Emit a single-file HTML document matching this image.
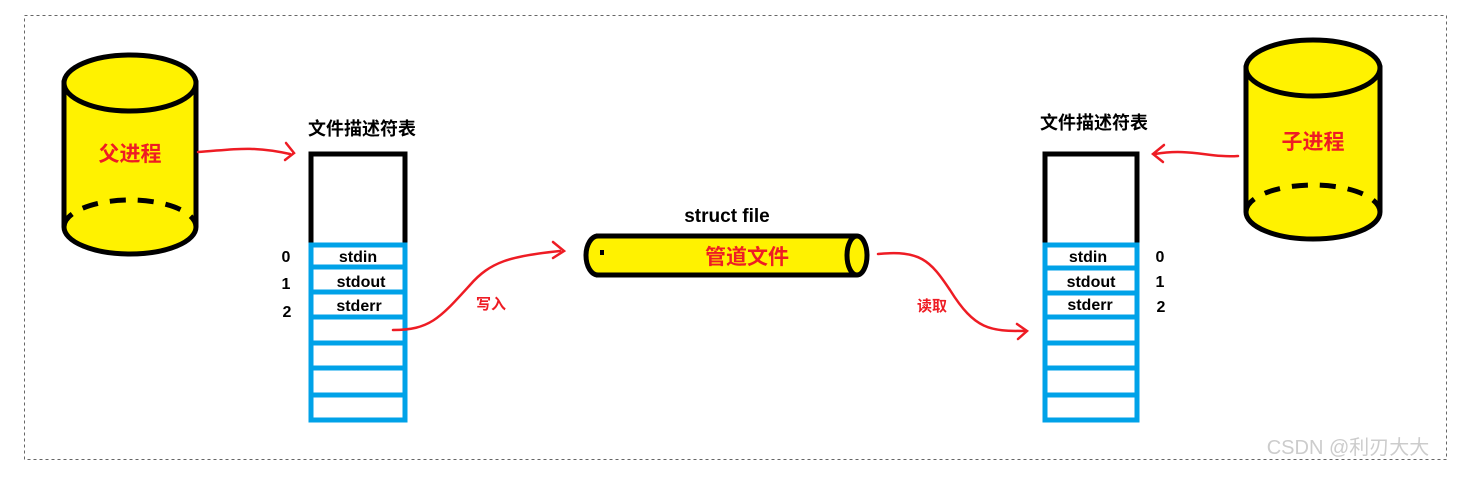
<!DOCTYPE html>
<html><head><meta charset="utf-8"><style>
html,body{margin:0;padding:0;background:#fff;}
svg text{font-family:"Liberation Sans","Noto Sans CJK SC",sans-serif;font-weight:bold;}
</style></head><body>
<svg width="1463" height="472" viewBox="0 0 1463 472" xmlns="http://www.w3.org/2000/svg">
<rect x="24.5" y="15.5" width="1422" height="444" fill="none" stroke="#666" stroke-dasharray="3,3" stroke-width="1"/>
<!-- left cylinder -->
<path d="M64 83 V227 A66 27 0 0 0 196 227 V83 Z" fill="#fff200" stroke="#000" stroke-width="5"/>
<ellipse cx="130" cy="83" rx="66" ry="28" fill="#fff200" stroke="#000" stroke-width="5"/>
<path d="M64 227 A66 27 0 0 1 196 227" fill="none" stroke="#000" stroke-width="5" stroke-dasharray="16,12"/>
<text x="130" y="161" font-size="21" fill="#ee1c24" text-anchor="middle">父进程</text>
<!-- right cylinder -->
<path d="M1246 68 V212 A67 27 0 0 0 1380 212 V68 Z" fill="#fff200" stroke="#000" stroke-width="5"/>
<ellipse cx="1313" cy="68" rx="67" ry="28" fill="#fff200" stroke="#000" stroke-width="5"/>
<path d="M1246 212 A67 27 0 0 1 1380 212" fill="none" stroke="#000" stroke-width="5" stroke-dasharray="16,12"/>
<text x="1313" y="149" font-size="21" fill="#ee1c24" text-anchor="middle">子进程</text>
<!-- left table -->
<text x="362" y="135" font-size="18" fill="#000" text-anchor="middle">文件描述符表</text>
<path d="M311 245 V154 H405 V245" fill="none" stroke="#000" stroke-width="5"/>
<g fill="none" stroke="#00a2e8" stroke-width="5">
<rect x="311" y="245" width="94" height="175"/>
<line x1="311" y1="267" x2="405" y2="267"/><line x1="311" y1="292" x2="405" y2="292"/>
<line x1="311" y1="317" x2="405" y2="317"/><line x1="311" y1="343" x2="405" y2="343"/>
<line x1="311" y1="368" x2="405" y2="368"/><line x1="311" y1="395" x2="405" y2="395"/>
</g>
<g font-size="16" fill="#000" text-anchor="middle">
<text x="358" y="262">stdin</text><text x="361" y="287">stdout</text><text x="359" y="311">stderr</text>
<text x="286" y="262">0</text><text x="286" y="289">1</text><text x="287" y="317">2</text>
</g>
<!-- right table -->
<text x="1094" y="129" font-size="18" fill="#000" text-anchor="middle">文件描述符表</text>
<path d="M1045 245 V154 H1137 V245" fill="none" stroke="#000" stroke-width="5"/>
<g fill="none" stroke="#00a2e8" stroke-width="5">
<rect x="1045" y="245" width="92" height="175"/>
<line x1="1045" y1="268" x2="1137" y2="268"/><line x1="1045" y1="293" x2="1137" y2="293"/>
<line x1="1045" y1="317" x2="1137" y2="317"/><line x1="1045" y1="343" x2="1137" y2="343"/>
<line x1="1045" y1="368" x2="1137" y2="368"/><line x1="1045" y1="395" x2="1137" y2="395"/>
</g>
<g font-size="16" fill="#000" text-anchor="middle">
<text x="1088" y="262">stdin</text><text x="1091" y="287">stdout</text><text x="1090" y="310">stderr</text>
<text x="1160" y="262">0</text><text x="1160" y="287">1</text><text x="1161" y="312">2</text>
</g>
<!-- pipe -->
<text x="727" y="222" font-size="19" fill="#000" text-anchor="middle">struct file</text>
<path d="M596 236 H857 V275 H596 Z" fill="#fff200" stroke="none"/>
<line x1="596" y1="236" x2="857" y2="236" stroke="#000" stroke-width="5"/>
<line x1="596" y1="275" x2="857" y2="275" stroke="#000" stroke-width="5"/>
<path d="M598 236 A12 19.5 0 0 0 598 275" fill="#fff200" stroke="#000" stroke-width="5"/>
<rect x="600" y="250" width="4" height="5" fill="#000"/>
<ellipse cx="857" cy="255.5" rx="10" ry="19.5" fill="#fff200" stroke="#000" stroke-width="5"/>
<text x="747" y="264" font-size="21" fill="#ee1c24" text-anchor="middle">管道文件</text>
<!-- arrows -->
<g fill="none" stroke="#ee1c24" stroke-width="2.5" stroke-linecap="round">
<path d="M198 152 C230 150 250 145 290 154"/><path d="M286 143 L294 153 L285 160"/>
<path d="M393 330 C430 330 440 318 470 285 C490 262 510 256 560 251"/><path d="M553 242 L564 251 L553 258"/>
<path d="M878 254 C920 250 930 260 950 290 C975 330 990 331 1025 331"/><path d="M1017 324 L1027 331 L1018 339"/>
<path d="M1238 156 C1210 158 1190 148 1155 154"/><path d="M1164 145 L1153 154 L1163 162"/>
</g>
<text x="491" y="309" font-size="15" fill="#ee1c24" text-anchor="middle">写入</text>
<text x="932" y="311" font-size="15" fill="#ee1c24" text-anchor="middle">读取</text>
<text x="1348" y="454" font-size="20" fill="#ccc" style="font-weight:normal" text-anchor="middle">CSDN @利刃大大</text>
</svg>
</body></html>
